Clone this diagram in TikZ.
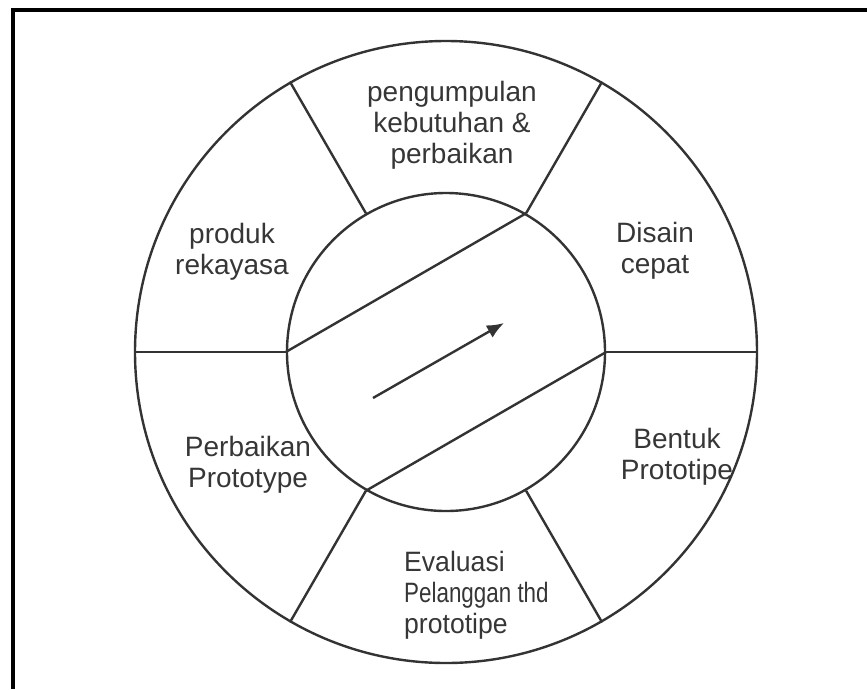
\documentclass[tikz,border=0pt]{standalone}
\usepackage{fontspec}
\setmainfont{Liberation Sans}
\usetikzlibrary{arrows.meta}
\definecolor{ink}{HTML}{333333}
\definecolor{txt}{HTML}{363636}
\begin{document}
\begin{tikzpicture}[x=1pt,y=-1pt,
  ring/.style={draw=ink,line width=2.4pt},
  lbl/.style={text=txt,align=center,inner sep=0pt,font=\fontsize{28}{31}\selectfont},
  frame/.style={draw=black,line width=4pt}]
\useasboundingbox (0,0) rectangle (867,689);
\coordinate (c) at (446,352);
% frame (top and left edges visible)
\draw[frame] (13,689) -- (13,10) -- (867,10);
% circles
\node[ring,circle,minimum size=622pt,inner sep=0pt] (outer) at (c) {};
\node[ring,circle,minimum size=318pt,inner sep=0pt] (inner) at (c) {};
% spokes
\foreach \a in {0,60,120,180,240,300}{
  \draw[ring] (inner.\a) -- (outer.\a);
}
% chords
\draw[ring] (inner.180) -- (inner.60);
\draw[ring] (inner.0) -- (inner.240);
% arrow
\coordinate (a1) at (373,398);
\coordinate (a2) at (504,323);
\draw[ring,-{Latex[length=17pt,width=14pt]}] (a1) -- (a2);
% labels
\node[lbl] (t1) at (452,125) {pengumpulan\\kebutuhan \&\\perbaikan};
\node[lbl] (t2) at (655,251) {Disain\\cepat};
\node[lbl] (t3) at (677,457) {Bentuk\\Prototipe};
\node[lbl,align=left,anchor=west] (t4) at (404,595) {\scalebox{0.95}[1]{Evaluasi}\\\scalebox{0.8}[1]{Pelanggan thd}\\\scalebox{0.95}[1]{prototipe}};
\node[lbl] (t5) at (248,465) {Perbaikan\\Prototype};
\node[lbl] (t6) at (232,252) {produk\\rekayasa};
\end{tikzpicture}
\end{document}
